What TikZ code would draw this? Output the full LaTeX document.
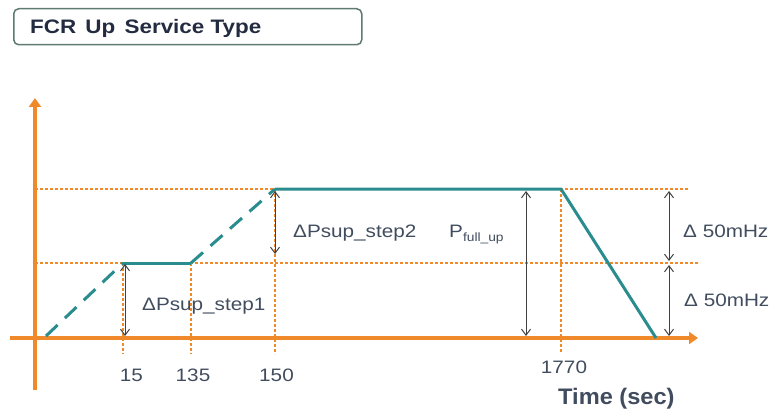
\documentclass[tikz,border=0pt]{standalone}
\usepackage{fontspec}
\setmainfont{Liberation Sans}
\newfontfamily\widesans[FakeStretch=1.15]{Liberation Sans}
\newfontfamily\timesans[FakeStretch=1.05]{Liberation Sans}
\usetikzlibrary{arrows.meta}
\definecolor{axor}{HTML}{F0892A}
\definecolor{teal2}{HTML}{2A8C8E}
\definecolor{txt}{HTML}{414C5E}
\definecolor{titletxt}{HTML}{222B40}
\definecolor{boxc}{HTML}{5E7A72}
\definecolor{arr}{HTML}{404040}
\begin{document}
\begin{tikzpicture}[x=1pt,y=-1pt,
  axis/.style={draw=axor,line width=3.5pt,-{Triangle[length=9pt,width=12pt]}},
  guide/.style={draw=axor,line width=1.2pt,dash pattern=on 3pt off 2pt},
  curve/.style={draw=teal2,line width=3pt},
  dcurve/.style={curve,dash pattern=on 16pt off 10pt},
  meas/.style={draw=arr,line width=1pt,{Straight Barb[length=6pt,width=9pt]}-{Straight Barb[length=6pt,width=9pt]}},
  lbl/.style={text=txt,font=\widesans\fontsize{18}{21}\selectfont,inner sep=0pt,anchor=base west},
  tick/.style={text=txt,font=\widesans\fontsize{18}{21}\selectfont,inner sep=0pt,anchor=base}]
\useasboundingbox (0,0) rectangle (769,412);
% title
\node[draw=boxc,line width=1.5pt,rounded corners=5pt,minimum width=348pt,minimum height=36pt,anchor=north west,inner sep=0pt] (title) at (13,8) {};
\node[anchor=base west,text=titletxt,font=\widesans\bfseries\fontsize{19.5}{22}\selectfont,inner sep=0pt] (titletext) at (30,34) {FCR\hspace{3pt} Up\hspace{3pt} Service Type};
% labels (drawn first so guides pass over them)
\node[lbl] (l1) at (142,310) {ΔPsup\_step1};
\node[lbl] (l2) at (293,237) {ΔPsup\_step2};
\node[lbl] (l3) at (449,237) {P\raisebox{-4.5pt}{\fontsize{12}{13}\selectfont full\_up}};
\node[lbl] (l4) at (683,237) {Δ 50mHz};
\node[lbl] (l5) at (684,306) {Δ 50mHz};
\node[tick] (t15) at (131.5,381) {15};
\node[tick] (t135) at (193,381) {135};
\node[tick] (t150) at (276.5,381) {150};
\node[tick] (t1770) at (564,373) {1770};
\node[text=txt,font=\timesans\bfseries\fontsize{22.5}{26}\selectfont,inner sep=0pt,anchor=base west] (time) at (558,404) {Time (sec)};
% axes coordinates
\coordinate (yb) at (35,390);
\coordinate (yt) at (35,98);
\coordinate (xl) at (10,338);
\coordinate (xr) at (698,338);
% levels
\coordinate (hl) at (35,189);
\coordinate (hr) at (688,189);
\coordinate (ml) at (35,263);
\coordinate (mr) at (700,263);
% vertical guides
\coordinate (v15t) at (123,263); \coordinate (v15b) at (123,354);
\coordinate (v135t) at (191,263); \coordinate (v135b) at (191,354);
\coordinate (v150t) at (275,189); \coordinate (v150b) at (275,354);
\coordinate (v1770t) at (561,189); \coordinate (v1770b) at (561,352);
\draw[guide] (hl) -- (hr);
\draw[guide] (ml) -- (mr);
\draw[guide] (v15t) -- (v15b);
\draw[guide] (v135t) -- (v135b);
\draw[guide] (v150t) -- (v150b);
\draw[guide] (v1770t) -- (v1770b);
% axes
\draw[axis] (yb) -- (yt);
\draw[axis] (xl) -- (xr);
% curve
\coordinate (c0) at (46,336);
\coordinate (c1) at (123,263);
\coordinate (c2) at (191,263);
\coordinate (c3) at (275,189);
\coordinate (c4) at (561,189);
\coordinate (c5) at (656,338);
\draw[dcurve] (c0) -- (c1);
\draw[curve] (c1) -- (c2);
\draw[dcurve] (c2) -- (c3);
\draw[curve,line join=round] (c3) -- (c4) -- (c5);
% measurement arrows
\coordinate (m1t) at (125,264); \coordinate (m1b) at (125,336);
\coordinate (m2t) at (275,191); \coordinate (m2b) at (275,254);
\coordinate (m3t) at (526,191); \coordinate (m3b) at (526,336);
\coordinate (m4t) at (669,191); \coordinate (m4b) at (669,261);
\coordinate (m5t) at (669,265); \coordinate (m5b) at (669,336);
\draw[meas] (m1t) -- (m1b);
\draw[meas] (m2t) -- (m2b);
\draw[meas] (m3t) -- (m3b);
\draw[meas] (m4t) -- (m4b);
\draw[meas] (m5t) -- (m5b);
\end{tikzpicture}
\end{document}
